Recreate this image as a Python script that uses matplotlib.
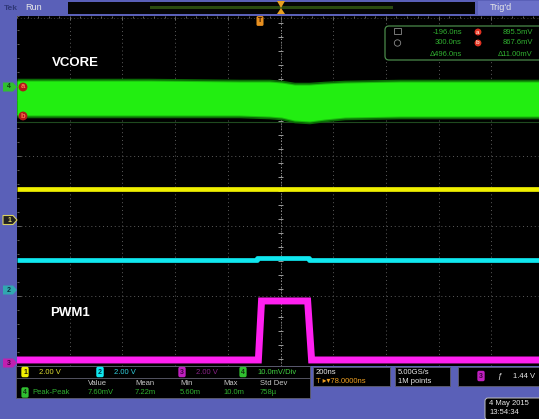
import matplotlib
matplotlib.use("Agg")
import matplotlib.pyplot as plt
from matplotlib.patches import Rectangle, FancyBboxPatch, Polygon
import numpy as np

plt.rcParams['font.family'] = ['Liberation Sans', 'DejaVu Sans']

# ---------------- data (time in ns, vertical in divisions) ----------------
vcore_t = [-1000, -500, -156, -42, 4, 53, 110, 168, 244, 453, 1000]
vcore_top = [1.571, 1.571, 1.557, 1.557, 1.543, 1.514, 1.514, 1.529, 1.543, 1.557, 1.557]
vcore_bot = [1.086, 1.086, 1.086, 1.071, 1.057, 1.014, 1.000, 1.029, 1.057, 1.071, 1.071]

ch1_t = [-1000, 1000]
ch1_v = [0.029, 0.029]

ch2_t = [-1000, -88, -88, 110, 110, 1000]
ch2_v = [-0.990, -0.990, -0.960, -0.960, -0.985, -0.985]

pwm_t = [-1000, -84, -72, 103, 118, 1000]
pwm_v = [-2.414, -2.414, -1.571, -1.571, -2.414, -2.414]

ch_scales = ["2.00 V", "2.00 V", "2.00 V", "10.0mV/Div"]
meas_headers = ["Value", "Mean", "Min", "Max", "Std Dev"]
meas_values = ["7.60mV", "7.22m", "5.60m", "10.0m", "758µ"]
cursor_times = ["-196.0ns", "300.0ns", "Δ496.0ns"]
cursor_volts = ["895.5mV", "867.6mV", "Δ11.00mV"]

BLUE = '#5a60b8'
YEL = '#f0f000'
CYN = '#10e8f0'
MAG = '#ff20f0'
GRN = '#22ee11'
TXT = '#e8e8e8'

fig = plt.figure(figsize=(5.39, 4.19), dpi=100)
fig.patch.set_facecolor(BLUE)

# background / frame axes in pixel coordinates
bg = fig.add_axes([0, 0, 1, 1])
bg.set_xlim(0, 539)
bg.set_ylim(419, 0)
bg.axis('off')
bg.add_patch(Rectangle((0, 0), 539, 419, fc=BLUE, ec='none'))
bg.add_patch(Rectangle((17, 16), 530, 350, fc='black', ec='none'))

# top bar
bg.add_patch(Rectangle((68, 2), 407, 12, fc='#050505', ec='none'))
bg.add_patch(Rectangle((150, 6), 243, 3, fc='#2a4a10', ec='none'))
bg.add_patch(Rectangle((478, 1), 61, 14, fc='#6a70c8', ec='none'))
bg.text(4, 8, "Tek", color='#303878', fontsize=6, va='center', ha='left', fontweight='bold')
bg.text(25, 8, "Run", color=TXT, fontsize=6.5, va='center', ha='left')
bg.text(490, 8, "Trig'd", color=TXT, fontsize=6.5, va='center', ha='left')
bg.add_patch(Polygon([[277, 1], [285, 1], [281, 8], [285, 14], [277, 14], [281, 8]],
                     closed=True, fc='#e8a020', ec='none'))

# main scope axes
ax = fig.add_axes([17 / 539, (419 - 366) / 419, 527 / 539, 350 / 419])
ax.set_facecolor('black')
ax.patch.set_alpha(0)
ax.set_xlim(-1000, 1000)
ax.set_ylim(-2.5, 2.5)
for s in ax.spines.values():
    s.set_visible(False)
ax.set_xticks(np.arange(-800, 801, 200))
ax.set_xticks(np.arange(-1000, 1001, 40), minor=True)
ax.set_yticks(np.arange(-1.5, 1.51, 1.0))
ax.set_yticks(np.arange(-2.5, 2.51, 0.2), minor=True)
ax.tick_params(which='both', direction='in', colors='#707070', labelleft=False,
               labelbottom=False, top=True, bottom=False, left=True, right=False)
ax.tick_params(which='major', length=3, width=0.6)
ax.tick_params(which='minor', length=1.5, width=0.6)

# dotted grid
for x in np.arange(-800, 801, 200):
    ax.axvline(x, color='#5c5c5c', lw=0.7, ls=(0, (1, 3)), zorder=1)
for y in np.arange(-1.5, 1.51, 1.0):
    ax.axhline(y, color='#5c5c5c', lw=0.7, ls=(0, (1, 3)), zorder=1)
ax.axhline(2.47, color='#505050', lw=0.6, ls=(0, (1, 3)), zorder=1)
# centre graticule line with ticks
ax.axvline(0, color='#9a9a9a', lw=0.7, ls=(0, (1, 2)), zorder=1)
ax.hlines(np.arange(-2.4, 2.41, 0.2), -8, 8, color='#9a9a9a', lw=0.7, zorder=1)

# VCORE band (glow + core)
ax.fill_between(vcore_t, np.array(vcore_top) + 0.04, np.array(vcore_bot) - 0.04,
                color='#0a6a05', lw=0, zorder=2)
ax.fill_between(vcore_t, np.array(vcore_top) + 0.015, np.array(vcore_bot) - 0.015,
                color='#18b80c', lw=0, zorder=2.5)
ax.fill_between(vcore_t, vcore_top, vcore_bot, color=GRN, lw=0, zorder=3)
ax.axhline(0.99, color='#1f4a1f', lw=0.8, zorder=1.5)

# CH1 yellow, CH2 cyan, PWM magenta
ax.plot(ch1_t, ch1_v, color=YEL, lw=3.4, solid_capstyle='butt', zorder=4)
ax.plot(ch2_t, ch2_v, color=CYN, lw=3.4, solid_capstyle='butt', zorder=4)
ax.plot(pwm_t, pwm_v, color=MAG, lw=5.0, solid_capstyle='butt',
        solid_joinstyle='miter', zorder=4)

# overlay axes for annotations drawn on top of the traces
fg = fig.add_axes([0, 0, 1, 1])
fg.set_xlim(0, 539)
fg.set_ylim(419, 0)
fg.axis('off')
fg.patch.set_alpha(0)

# labels
fg.text(52, 63, "VCORE", color='white', fontsize=9.5, fontweight='bold', va='center', ha='left')
fg.text(50, 313, "PWM1", color='white', fontsize=9.5, fontweight='bold', va='center', ha='left')

# cursor markers a/b
for y, lab in [(87, 'a'), (116, 'b')]:
    fg.text(23, y, lab, color='#ff7050', fontsize=5.5, ha='center', va='center', fontweight='bold',
            bbox=dict(boxstyle='circle,pad=0.12', fc='#b01818', ec='none'))

# trigger position T marker
fg.text(260, 21, "T", color='#301000', fontsize=5, ha='center', va='center', fontweight='bold',
        bbox=dict(boxstyle='round,pad=0.2', fc='#e89020', ec='none'))

# left strip channel markers
def tag(y, fc, ec, label, tc):
    fg.add_patch(Polygon([[3, y - 4.5], [13, y - 4.5], [17, y], [13, y + 4.5], [3, y + 4.5]],
                         closed=True, fc=fc, ec=ec, lw=0.8))
    fg.text(9, y, label, color=tc, fontsize=5, ha='center', va='center', fontweight='bold')

tag(87, '#30c030', 'none', '4', '#104010')
tag(220, '#202020', '#d8d060', '1', '#d8d060')
tag(290, '#30a8b0', 'none', '2', '#0a3040')
tag(363, '#c020b0', 'none', '3', '#400040')

# cursor readout box
fg.add_patch(FancyBboxPatch((385, 26), 170, 34, boxstyle='round,pad=0,rounding_size=4',
                            fc='black', ec='#4a8a4a', lw=0.9))
RG = '#30b030'
fg.add_patch(Rectangle((394, 28.5), 7, 6, fc='none', ec='#8a8a8a', lw=0.6))
fg.add_patch(plt.Circle((397.5, 43), 3.2, fc='none', ec='#8a8a8a', lw=0.6))
for i, (tt, vv) in enumerate(zip(cursor_times, cursor_volts)):
    y = 32 + i * 11
    fg.text(462, y, tt, color=RG, fontsize=5.5, ha='right', va='center')
    fg.text(533, y, vv, color=RG, fontsize=5.5, ha='right', va='center')
for y, lab in [(32, 'a'), (43, 'b')]:
    fg.text(478, y, lab, color='#ffd0c0', fontsize=4.5, ha='center', va='center', fontweight='bold',
            bbox=dict(boxstyle='circle,pad=0.15', fc='#e03020', ec='none'))

# bottom status area
fg.add_patch(Rectangle((16, 366), 294, 32, fc='black', ec='#606070', lw=0.6))
fg.plot([16, 310], [378, 378], color='#606070', lw=0.6)
ch_cols = [(25, YEL, '#202000', '#e0e030'), (100, CYN, '#003040', '#30d0e0'),
           (182, '#c020c0', '#400040', '#8a208a'), (243, '#30c030', '#103010', '#40d040')]
for i, (x, bc, tc, sc) in enumerate(ch_cols):
    fg.text(x, 372, str(i + 1), color=tc, fontsize=5, ha='center', va='center', fontweight='bold',
            bbox=dict(boxstyle='round,pad=0.25', fc=bc, ec='none'))
    fg.text(x + 14, 372, ch_scales[i], color=sc, fontsize=5.5, ha='left', va='center')
hx = [88, 135, 180, 223, 260]
for x, h in zip(hx, meas_headers):
    fg.text(x, 383, h, color='#c8c8c8', fontsize=5.5, ha='left', va='center')
fg.text(25, 392.5, "4", color='#103010', fontsize=5, ha='center', va='center', fontweight='bold',
        bbox=dict(boxstyle='round,pad=0.25', fc='#30c030', ec='none'))
fg.text(32, 392.5, "Peak-Peak", color='#30b030', fontsize=5.5, ha='left', va='center')
for x, v in zip(hx, meas_values):
    fg.text(x, 392.5, v, color='#30b030', fontsize=5.5, ha='left', va='center')

# timebase box
fg.add_patch(Rectangle((313, 367), 77, 19, fc='black', ec='#606070', lw=0.6))
fg.text(316, 372, "200ns", color=TXT, fontsize=5.5, ha='left', va='center')
fg.text(316, 381, "T ▸▾78.0000ns", color='#f0a020', fontsize=5.5, ha='left', va='center')
fg.add_patch(Rectangle((395, 367), 55, 19, fc='black', ec='#606070', lw=0.6))
fg.text(398, 372, "5.00GS/s", color=TXT, fontsize=5.5, ha='left', va='center')
fg.text(398, 381, "1M points", color=TXT, fontsize=5.5, ha='left', va='center')
fg.add_patch(Rectangle((458, 367), 85, 19, fc='black', ec='#606070', lw=0.6))
fg.text(481, 376, "3", color='#400040', fontsize=5, ha='center', va='center', fontweight='bold',
        bbox=dict(boxstyle='round,pad=0.25', fc='#c020c0', ec='none'))
fg.text(500, 376, "ƒ", color=TXT, fontsize=6, ha='center', va='center')
fg.text(513, 376, "1.44 V", color=TXT, fontsize=5.5, ha='left', va='center')

# date box
fg.add_patch(FancyBboxPatch((485, 398), 60, 22, boxstyle='round,pad=0,rounding_size=3',
                            fc='black', ec='#c0c0c0', lw=0.7))
fg.text(489, 403, "4 May 2015", color=TXT, fontsize=5.5, ha='left', va='center')
fg.text(489, 412, "13:54:34", color=TXT, fontsize=5.5, ha='left', va='center')

fig.savefig("out.png", dpi=100, facecolor=BLUE)
